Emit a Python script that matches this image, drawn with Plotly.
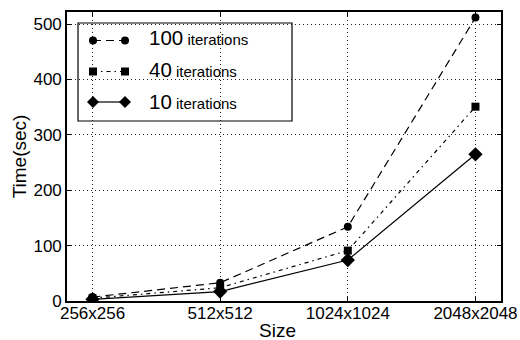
import plotly.graph_objects as go

sizes = ["256x256", "512x512", "1024x1024", "2048x2048"]
it100 = [7, 33, 134, 512]
it40 = [5, 24, 91, 351]
it10 = [3, 17, 74, 265]
y_ticks = [0, 100, 200, 300, 400, 500]
iters = [100, 40, 10]

FONT = "Liberation Sans, Arial, sans-serif"
W, H = 520, 340
L, R, T, B = 67, 19, 12, 39
PW, PH = W - L - R, H - T - B


def px(x):
    return (x - L) / PW


def py(y):
    return (H - B - y) / PH


def name(n):
    return f"{n}<span style='font-size:15px'> iterations</span>"


styles = [
    dict(data=it100, dash="8px,5px", symbol="circle", size=8),
    dict(data=it40, dash="4px,4px,1.5px,4px", symbol="square", size=8),
    dict(data=it10, dash="solid", symbol="diamond", size=11),
]

fig = go.Figure()
for n, st in zip(iters, styles):
    fig.add_trace(go.Scatter(x=sizes, y=st["data"], mode="lines+markers", showlegend=False,
                             line=dict(color="black", width=1.2, dash=st["dash"]),
                             marker=dict(symbol=st["symbol"], size=st["size"], color="black")))
for n in iters:
    fig.add_trace(go.Scatter(x=[None], y=[None], mode="lines", name=name(n),
                             legendgroup=f"g{n}",
                             line=dict(color="rgba(0,0,0,0)", width=0)))

axis_common = dict(
    showline=True, linecolor="black", linewidth=1.6, mirror="allticks",
    ticks="inside", ticklen=4, tickcolor="black", tickwidth=1,
    showgrid=True, gridcolor="#222", gridwidth=1, griddash="1px,3px",
    zeroline=False, automargin=False,
    tickfont=dict(size=17, color="black", family=FONT),
)

fig.update_xaxes(type="category", range=[-0.2, 3.2], ticklabelstandoff=-4, **axis_common)
fig.update_yaxes(range=[0, 522], tickvals=y_ticks, ticklabelstandoff=0,
                 title=dict(text="Time(sec)", font=dict(size=19, color="black", family=FONT), standoff=2),
                 **axis_common)

fig.add_annotation(text="Size", xref="paper", yref="paper", x=px(277), y=py(330),
                   xanchor="center", yanchor="middle", showarrow=False,
                   font=dict(size=19, color="black", family=FONT))

# legend frame
fig.add_shape(type="rect", xref="paper", yref="paper",
              x0=px(78), x1=px(292), y0=py(121), y1=py(23),
              line=dict(color="black", width=1.2), fillcolor="white", layer="below")

# legend glyphs (line sample with a marker at both ends)
rows = [40.5, 71.5, 102]
x_a, x_b = 93, 125
for yy, st in zip(rows, styles):
    fig.add_shape(type="line", xref="paper", yref="paper",
                  x0=px(x_a), x1=px(x_b), y0=py(yy), y1=py(yy),
                  line=dict(color="black", width=1.2, dash=st["dash"]))
    for xx in (x_a, x_b):
        if st["symbol"] == "circle":
            r = 4
            fig.add_shape(type="circle", xref="paper", yref="paper",
                          x0=px(xx - r), x1=px(xx + r), y0=py(yy + r), y1=py(yy - r),
                          line=dict(width=0), fillcolor="black")
        elif st["symbol"] == "square":
            r = 4
            fig.add_shape(type="rect", xref="paper", yref="paper",
                          x0=px(xx - r), x1=px(xx + r), y0=py(yy + r), y1=py(yy - r),
                          line=dict(width=0), fillcolor="black")
        else:
            r = 6
            path = (f"M {px(xx - r)} {py(yy)} L {px(xx)} {py(yy - r)} "
                    f"L {px(xx + r)} {py(yy)} L {px(xx)} {py(yy + r)} Z")
            fig.add_shape(type="path", xref="paper", yref="paper", path=path,
                          line=dict(width=0), fillcolor="black")

fig.update_layout(
    width=W, height=H,
    margin=dict(l=L, r=R, t=T, b=B),
    paper_bgcolor="white", plot_bgcolor="white",
    font=dict(family=FONT, color="black"),
    legend=dict(x=px(88), y=py(17), xanchor="left", yanchor="top",
                bgcolor="rgba(0,0,0,0)", borderwidth=0,
                font=dict(size=20.5, color="black", family=FONT),
                itemwidth=51, tracegroupgap=2.5),
)

fig.write_html("out.html")
